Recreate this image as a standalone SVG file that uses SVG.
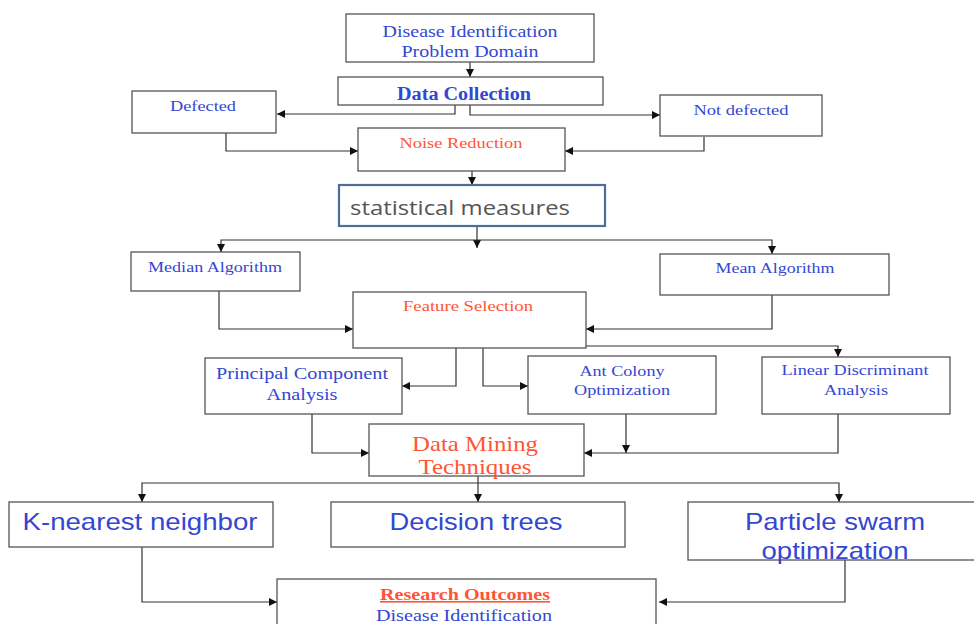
<svg xmlns="http://www.w3.org/2000/svg" width="974" height="624" viewBox="0 0 974 624">
<defs>
<marker id="ah" markerUnits="userSpaceOnUse" markerWidth="9" markerHeight="9" refX="8" refY="4" orient="auto">
<path d="M0,0 L8,4 L0,8 z" fill="#111"/>
</marker>
<style>
.box{fill:#fff;stroke:#555;stroke-width:1.3}
.sbox{fill:#fff;stroke:#4e6d99;stroke-width:2.2}
.t{font-family:"Liberation Serif","Times New Roman",serif;text-anchor:middle;fill:#3347d3}
.r{fill:#ff5533}
.s{font-family:"Liberation Sans",Arial,sans-serif;text-anchor:middle;fill:#3347d3}
.c{fill:none;stroke:#333;stroke-width:1.2;marker-end:url(#ah)}
.n{fill:none;stroke:#333;stroke-width:1.2}
</style>
</defs>
<rect width="974" height="624" fill="#fff"/>
<g id="connectors">
<path class="c" d="M470,62 V77"/>
<path class="c" d="M455,105 V114 H277"/>
<path class="c" d="M470,105 V115 H660"/>
<path class="c" d="M226,133 V151 H358"/>
<path class="c" d="M704,137 V151 H565"/>
<path class="c" d="M472,171 V185"/>
<path class="c" d="M477,227 V248"/>
<path class="c" d="M477,240 H221 V252"/>
<path class="c" d="M477,240 H772 V254"/>
<path class="c" d="M219,291 V329 H353"/>
<path class="c" d="M772,295 V329 H586"/>
<path class="c" d="M586,346 H838 V357"/>
<path class="c" d="M456,348 V386 H402"/>
<path class="c" d="M483,348 V386 H528"/>
<path class="c" d="M312,414 V453 H369"/>
<path class="c" d="M626,414 V453"/>
<path class="c" d="M838,414 V453 H584"/>
<path class="c" d="M478,476 V502"/>
<path class="c" d="M478,483 H142 V502"/>
<path class="c" d="M478,483 H839 V502"/>
<path class="c" d="M142,547 V602 H277"/>
<path class="c" d="M845,560 V602 H659"/>
</g>
<g id="problem">
<rect class="box" x="346" y="14" width="248" height="48"/>
<text class="t" x="470" y="37" font-size="17" textLength="175" lengthAdjust="spacingAndGlyphs">Disease Identification</text>
<text class="t" x="470" y="57" font-size="17" textLength="137" lengthAdjust="spacingAndGlyphs">Problem Domain</text>
</g>
<g id="datacollection">
<rect class="box" x="338" y="77" width="265" height="28"/>
<text class="t" x="464" y="100" font-size="18" font-weight="bold" textLength="134" lengthAdjust="spacingAndGlyphs">Data Collection</text>
</g>
<g id="defected">
<rect class="box" x="132" y="91" width="144" height="42"/>
<text class="t" x="203" y="111" font-size="14" textLength="66" lengthAdjust="spacingAndGlyphs">Defected</text>
</g>
<g id="notdefected">
<rect class="box" x="660" y="95" width="162" height="41"/>
<text class="t" x="741" y="115" font-size="14" textLength="95" lengthAdjust="spacingAndGlyphs">Not defected</text>
</g>
<g id="noise">
<rect class="box" x="358" y="128" width="207" height="43"/>
<text class="t r" x="461" y="148" font-size="14" textLength="123" lengthAdjust="spacingAndGlyphs">Noise Reduction</text>
</g>
<g id="statistical">
<rect class="sbox" x="339" y="185" width="266" height="41"/>
<text x="350" y="215" font-family="'Open Sans','Liberation Sans',sans-serif" font-size="20" fill="#555" textLength="220" lengthAdjust="spacingAndGlyphs">statistical measures</text>
</g>
<g id="median">
<rect class="box" x="131" y="252" width="169" height="39"/>
<text class="t" x="215" y="272" font-size="14" textLength="134" lengthAdjust="spacingAndGlyphs">Median Algorithm</text>
</g>
<g id="mean">
<rect class="box" x="660" y="254" width="229" height="41"/>
<text class="t" x="775" y="273" font-size="14" textLength="119" lengthAdjust="spacingAndGlyphs">Mean Algorithm</text>
</g>
<g id="feature">
<rect class="box" x="353" y="292" width="233" height="56"/>
<text class="t r" x="468" y="311" font-size="14" textLength="130" lengthAdjust="spacingAndGlyphs">Feature Selection</text>
</g>
<g id="pca">
<rect class="box" x="205" y="358" width="197" height="56"/>
<text class="t" x="302" y="379" font-size="17" textLength="172" lengthAdjust="spacingAndGlyphs">Principal Component</text>
<text class="t" x="302" y="400" font-size="17" textLength="71" lengthAdjust="spacingAndGlyphs">Analysis</text>
</g>
<g id="aco">
<rect class="box" x="528" y="356" width="188" height="58"/>
<text class="t" x="622" y="376" font-size="15" textLength="85" lengthAdjust="spacingAndGlyphs">Ant Colony</text>
<text class="t" x="622" y="395" font-size="15" textLength="96" lengthAdjust="spacingAndGlyphs">Optimization</text>
</g>
<g id="lda">
<rect class="box" x="762" y="357" width="188" height="57"/>
<text class="t" x="855" y="375" font-size="15" textLength="147" lengthAdjust="spacingAndGlyphs">Linear Discriminant</text>
<text class="t" x="856" y="395" font-size="15" textLength="64" lengthAdjust="spacingAndGlyphs">Analysis</text>
</g>
<g id="datamining">
<rect class="box" x="369" y="424" width="215" height="52"/>
<text class="t r" x="475" y="451" font-size="22" textLength="126" lengthAdjust="spacingAndGlyphs">Data Mining</text>
<text class="t r" x="475" y="474" font-size="22" textLength="113" lengthAdjust="spacingAndGlyphs">Techniques</text>
</g>
<g id="knn">
<rect class="box" x="9" y="502" width="264" height="45"/>
<text class="s" x="140" y="530" font-size="24" textLength="235" lengthAdjust="spacingAndGlyphs">K-nearest neighbor</text>
</g>
<g id="decisiontrees">
<rect class="box" x="331" y="502" width="294" height="45"/>
<text class="s" x="476" y="530" font-size="24" textLength="173" lengthAdjust="spacingAndGlyphs">Decision trees</text>
</g>
<g id="pso">
<rect class="box" x="688" y="502" width="300" height="58"/>
<text class="s" x="835" y="530" font-size="24" textLength="180" lengthAdjust="spacingAndGlyphs">Particle swarm</text>
<text class="s" x="835" y="559" font-size="24" textLength="147" lengthAdjust="spacingAndGlyphs">optimization</text>
</g>
<g id="research">
<rect class="box" x="277" y="579" width="379" height="55"/>
<text class="t r" x="465" y="600" font-size="16" font-weight="bold" text-decoration="underline" textLength="170" lengthAdjust="spacingAndGlyphs">Research Outcomes</text>
<text class="t" x="464" y="621" font-size="16" textLength="176" lengthAdjust="spacingAndGlyphs">Disease Identification</text>
</g>
</svg>
